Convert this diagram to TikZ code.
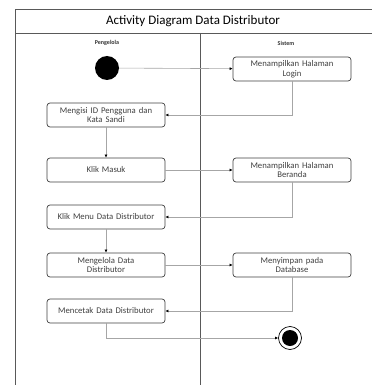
\documentclass[tikz,border=0pt]{standalone}
\usepackage{fontspec}
\setmainfont{Carlito}
\usetikzlibrary{arrows.meta}
\tikzset{
	act/.style={draw=black!75, line width=0.7pt, rounded corners=3pt, fill=white,
		minimum width=118pt, minimum height=24pt, text width=114pt, align=center,
		font=\fontsize{8.7}{9.5}\selectfont, text=black!75, inner sep=1pt},
	flow/.style={draw=black!35, line width=0.6pt, -{Latex[black,length=3pt,width=3pt]}},
	lane/.style={draw=black!65, line width=0.9pt},
	lanehead/.style={font=\fontsize{6}{7}\selectfont\bfseries, text=black!80}
}
\begin{document}
\begin{tikzpicture}[x=1pt,y=-1pt]
		\useasboundingbox (0,0) rectangle (372,385);
		%%  swimlanes  %%%%%%%%
		\draw[lane] (15,385) -- (15,9) -- (372,9);
		\draw[lane] (15,33) -- (372,33);
		\draw[lane] (200,33) -- (200,385);
		\node (title) at (193,21) {\fontsize{13}{15}\selectfont Activity Diagram Data Distributor};
		\node[lanehead] (pengelola) at (107,43) {Pengelola};
		\node[lanehead] (sistem) at (286,43) {Sistem};
		%%  activities  %%%%%%%%
		\node[circle, fill=black, minimum size=24pt, inner sep=0pt] (start) at (107,68) {};
		\node[act] (login) at (292,69) {Menampilkan Halaman\\Login};
		\node[act] (mengisi) at (106,115) {Mengisi ID Pengguna dan\\Kata Sandi};
		\node[act] (masuk) at (106,170) {Klik Masuk};
		\node[act] (beranda) at (292,170) {Menampilkan Halaman\\Beranda};
		\node[act] (menu) at (106,217) {Klik Menu Data Distributor};
		\node[act] (kelola) at (106,265) {Mengelola Data\\Distributor};
		\node[act] (simpan) at (292,265) {Menyimpan pada\\Database};
		\node[act] (cetak) at (106,311) {Mencetak Data Distributor};
		\node[circle, draw=black, line width=0.7pt, fill=white, minimum size=23pt, inner sep=0pt] (end) at (290,338) {};
		\node[circle, fill=black, minimum size=16pt, inner sep=0pt] at (end) {};
		%%  flows  %%%%%%%%
		\draw[flow] (start) -- (login);
		\draw[flow] (login.south) |- (mengisi.east);
		\draw[flow] (mengisi) -- (masuk);
		\draw[flow] (masuk) -- (beranda);
		\draw[flow] (beranda.south) |- (menu.east);
		\draw[flow] (menu) -- (kelola);
		\draw[flow] (kelola) -- (simpan);
		\draw[flow] (simpan.south) |- (cetak.east);
		\draw[flow] (cetak.south) |- (end.west);
		%%%%%%%%%%%%%%%
	\end{tikzpicture}
\end{document}
